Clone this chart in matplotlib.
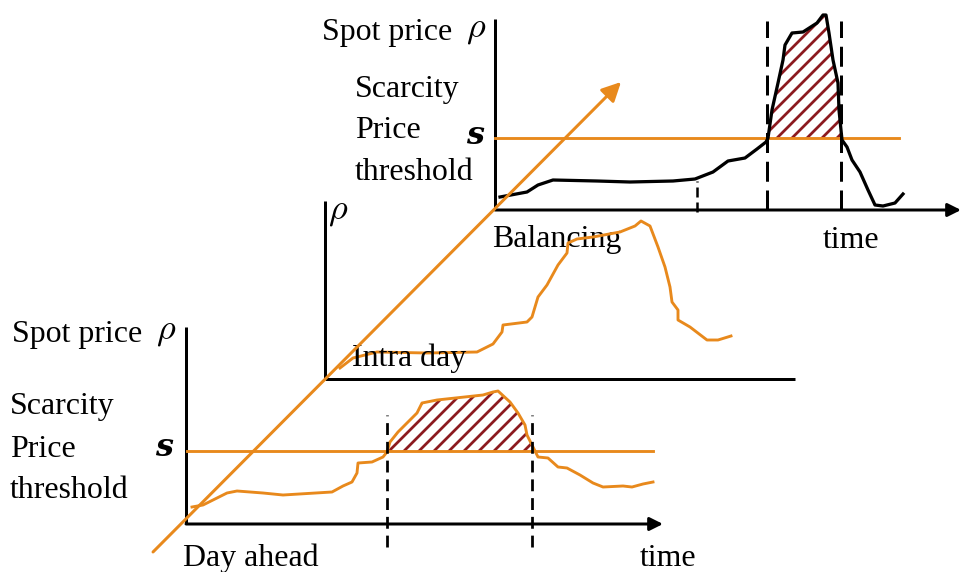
import matplotlib
matplotlib.use("Agg")
import matplotlib.pyplot as plt
import numpy as np

plt.rcParams['font.family'] = ['Liberation Serif', 'DejaVu Serif']
plt.rcParams['mathtext.fontset'] = 'cm'
plt.rcParams['lines.scale_dashes'] = False
plt.rcParams['hatch.linewidth'] = 2.2

ORANGE = '#E8891C'
DARKRED = '#8C1A1F'

# ---- data (schematic, in pixel units of the canvas) ----
# Balancing market price curve (top panel)
bal_x = [500, 527, 538, 553, 597, 630, 673, 695, 713, 728, 745, 757, 766, 768,
         772, 778, 783, 785, 792, 803, 817, 823, 826, 829, 833, 838, 839, 842,
         847, 852, 860, 868, 875, 883, 895, 903]
bal_y = [197, 192, 185, 180, 181, 182, 181, 179, 172, 161, 158, 149, 142, 138,
         110, 83, 60, 45, 33, 32, 23, 15, 15, 33, 60, 83, 110, 140,
         147, 160, 172, 190, 205, 206, 203, 194]
bal_threshold = 138

# Intra day price curve (middle panel)
intra_x = [340, 353, 377, 427, 477, 493, 502, 503, 527, 532, 538, 547, 558, 567,
           568, 577, 593, 620, 635, 641, 650, 658, 665, 670, 672, 678, 678, 690,
           707, 718, 731]
intra_y = [368, 358, 352, 353, 352, 344, 332, 325, 322, 317, 297, 285, 265, 253,
           243, 239, 237, 232, 226, 221, 226, 247, 267, 287, 302, 310, 320, 327,
           340, 340, 336]

# Day ahead price curve (bottom panel)
da_x = [192, 203, 227, 237, 263, 283, 332, 343, 352, 357, 358, 372, 383, 387,
        390, 398, 417, 422, 437, 483, 493, 498, 510, 518, 525, 527, 533, 538,
        548, 558, 567, 580, 593, 603, 623, 632, 643, 653]
da_y = [507, 505, 493, 491, 493, 495, 492, 486, 482, 473, 463, 462, 457, 452,
        442, 432, 413, 403, 400, 395, 392, 391, 402, 413, 425, 435, 447, 457,
        458, 467, 468, 475, 483, 487, 486, 487, 484, 482]
da_threshold = 451

DPI = 90
fig = plt.figure(figsize=(964 / DPI, 572 / DPI), dpi=DPI)
ax = fig.add_axes([0, 0, 1, 1])
ax.set_xlim(0, 964)
ax.set_ylim(572, 0)
ax.axis('off')

AX_LW = 2.4
FS = 25.5
RHO_FS = 29


def arrow(x0, y0, x1, y1, color, lw, ms):
    ax.annotate('', xy=(x1, y1), xytext=(x0, y0),
                arrowprops=dict(arrowstyle='-|>', color=color, lw=lw,
                                mutation_scale=ms, shrinkA=0, shrinkB=0),
                zorder=5)


# ---------------- top panel: Balancing ----------------
ax.plot([495, 495], [19, 210], color='black', lw=AX_LW, solid_capstyle='butt')
arrow(495, 210, 961, 210, 'black', AX_LW, 22)
ax.plot([495, 899], [bal_threshold] * 2, color=ORANGE, lw=2.3, zorder=2)
bx = np.array(bal_x, float)
by = np.array(bal_y, float)
ax.fill_between(bx, by, bal_threshold, where=by <= bal_threshold, interpolate=True,
                facecolor='none', edgecolor=DARKRED, hatch='//', linewidth=0, zorder=1)
ax.plot(bx, by, color='black', lw=2.6, zorder=3, solid_joinstyle='round')
for xv in (767, 841):
    ax.plot([xv, xv], [210, 21], color='black', lw=2.4, dashes=(16, 7), zorder=4)
ax.plot([697, 697], [212, 181], color='black', lw=2.0, dashes=(8, 4), zorder=4)

ax.text(322, 40, 'Spot price', fontsize=FS, va='baseline', ha='left')
ax.text(476, 29, r'$\rho$', fontsize=RHO_FS, va='center', ha='center')
for txt, yb in (('Scarcity', 97), ('Price', 138), ('threshold', 180)):
    ax.text(355, yb, txt, fontsize=FS, va='baseline', ha='left')
ax.text(475, 136, 's', fontsize=FS, va='center', ha='center',
        style='italic', weight='bold', family='DejaVu Serif')
ax.text(492, 247, 'Balancing', fontsize=FS, va='baseline', ha='left')
ax.text(823, 248, 'time', fontsize=FS, va='baseline', ha='left')

# ---------------- middle panel: Intra day ----------------
ax.plot([325, 325], [201, 379], color='black', lw=AX_LW, solid_capstyle='butt')
ax.plot([325, 795], [379, 379], color='black', lw=AX_LW, solid_capstyle='butt')
ax.plot(intra_x, intra_y, color=ORANGE, lw=2.3, zorder=3)
ax.text(338, 211, r'$\rho$', fontsize=RHO_FS, va='center', ha='center')
ax.text(352, 366, 'Intra day', fontsize=FS, va='baseline', ha='left')

# ---------------- bottom panel: Day ahead ----------------
ax.plot([186, 186], [327, 524], color='black', lw=AX_LW, solid_capstyle='butt')
arrow(186, 524, 663, 524, 'black', AX_LW, 22)
ax.plot([187, 653], [da_threshold] * 2, color=ORANGE, lw=2.3, zorder=2)
dx = np.array(da_x, float)
dy = np.array(da_y, float)
ax.fill_between(dx, dy, da_threshold, where=dy <= da_threshold, interpolate=True,
                facecolor='none', edgecolor=DARKRED, hatch='//', linewidth=0, zorder=1)
ax.plot(dx, dy, color=ORANGE, lw=2.3, zorder=3)
for xv in (387, 532):
    ax.plot([xv, xv], [547, 415], color='black', lw=2.2, dashes=(9.5, 5.5), zorder=4)

ax.text(12, 342, 'Spot price', fontsize=FS, va='baseline', ha='left')
ax.text(166, 331, r'$\rho$', fontsize=RHO_FS, va='center', ha='center')
for txt, yb in (('Scarcity', 414), ('Price', 457), ('threshold', 498)):
    ax.text(10, yb, txt, fontsize=FS, va='baseline', ha='left')
ax.text(164, 447, 's', fontsize=FS, va='center', ha='center',
        style='italic', weight='bold', family='DejaVu Serif')
ax.text(183, 566, 'Day ahead', fontsize=FS, va='baseline', ha='left')
ax.text(640, 566, 'time', fontsize=FS, va='baseline', ha='left')

# ---------------- diagonal market-sequence arrow ----------------
arrow(153, 552, 621, 82, ORANGE, 2.4, 32)

fig.savefig('out.png', dpi=DPI)
